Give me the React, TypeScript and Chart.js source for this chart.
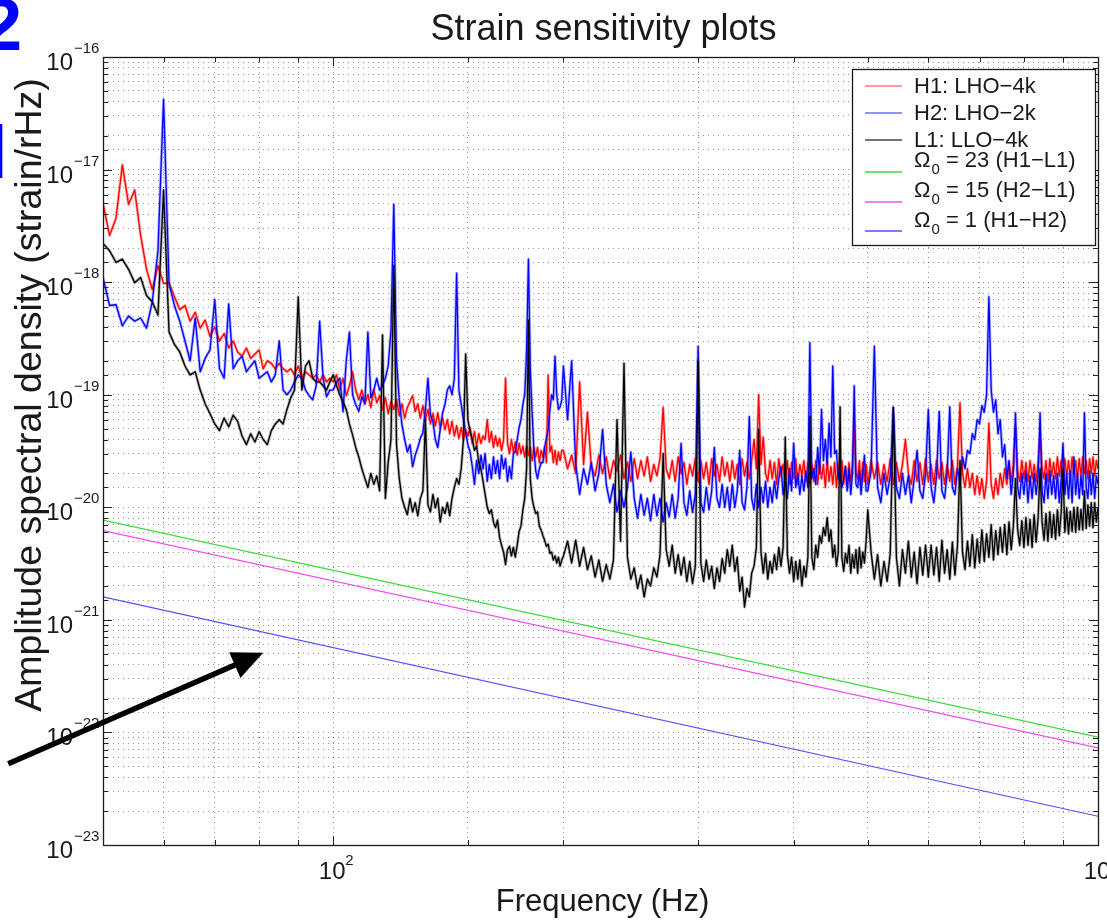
import React, { useEffect, useRef } from "react";
import { Chart, registerables } from "chart.js";

Chart.register(...registerables);

const WIDTH = 1107;
const HEIGHT = 920;
const FONT = '"Liberation Sans", Arial, Helvetica, sans-serif';

const TITLE = "Strain sensitivity plots";
const X_TITLE = "Frequency (Hz)";
const Y_TITLE = "Amplitude spectral density (strain/rHz)";

// Frequency bins (Hz) shared by the three detector spectra
const freqHz = [
  50, 51, 52, 53, 54, 55, 56, 57, 58, 59,
  60, 61, 62, 63, 64, 65, 66, 67, 68, 69,
  70, 71, 72, 73, 74, 75, 76, 77, 78, 79,
  80, 81, 82, 83, 84, 85, 86, 87, 88, 89,
  90, 91, 92, 93, 94, 95, 96, 97, 98, 99,
  100, 101, 102, 103, 104, 105, 106, 107, 108, 109,
  110, 111, 112, 113, 114, 115, 116, 117, 118, 119,
  120, 121, 122, 123, 124, 125, 126, 127, 128, 129,
  130, 131, 132, 133, 134, 135, 136, 137, 138, 139,
  140, 141, 142, 143, 144, 145, 146, 147, 148, 149,
  150, 151, 152, 153, 154, 155, 156, 157, 158, 159,
  160, 161, 162, 163, 164, 165, 166, 167, 168, 169,
  170, 171, 172, 173, 174, 175, 176, 177, 178, 179,
  180, 181, 182, 183, 184, 185, 186, 187, 188, 189,
  190, 191, 192, 193, 194, 195, 196, 197, 198, 199,
  200, 202.5, 205, 207.5, 210, 212.5, 215, 217.5, 220, 222.5,
  225, 227.5, 230, 232.5, 235, 237.5, 240, 242.5, 245, 247.5,
  250, 252.5, 255, 257.5, 260, 262.5, 265, 267.5, 270, 272.5,
  275, 277.5, 280, 282.5, 285, 287.5, 290, 292.5, 295, 297.5,
  300, 302.5, 305, 307.5, 310, 312.5, 315, 317.5, 320, 322.5,
  325, 327.5, 330, 332.5, 335, 337.5, 340, 342.5, 345, 347.5,
  350, 352.5, 355, 357.5, 360, 362.5, 365, 367.5, 370, 372.5,
  375, 377.5, 380, 382.5, 385, 387.5, 390, 392.5, 395, 397.5,
  400, 402.5, 405, 407.5, 410, 412.5, 415, 417.5, 420, 422.5,
  425, 427.5, 430, 432.5, 435, 437.5, 440, 442.5, 445, 447.5,
  450, 452.5, 455, 457.5, 460, 462.5, 465, 467.5, 470, 472.5,
  475, 477.5, 480, 482.5, 485, 487.5, 490, 492.5, 495, 497.5,
  500, 505, 510, 515, 520, 525, 530, 535, 540, 545,
  550, 555, 560, 565, 570, 575, 580, 585, 590, 595,
  600, 605, 610, 615, 620, 625, 630, 635, 640, 645,
  650, 655, 660, 665, 670, 675, 680, 685, 690, 695,
  700, 705, 710, 715, 720, 725, 730, 735, 740, 745,
  750, 755, 760, 765, 770, 775, 780, 785, 790, 795,
  800, 805, 810, 815, 820, 825, 830, 835, 840, 845,
  850, 855, 860, 865, 870, 875, 880, 885, 890, 895,
  900, 905, 910, 915, 920, 925, 930, 935, 940, 945,
  950, 955, 960, 965, 970, 975, 980, 985, 990, 995,
  1000,
];

// H1: LHO 4 km, amplitude spectral density (strain/rHz)
const h1Asd = [
  5.0e-18, 2.6e-18, 3.7e-18, 1.1e-17, 4.9e-18, 6.6e-18, 2.6e-18, 1.3e-18, 8.6e-19, 1.4e-18,
  9.7e-19, 9.9e-19, 7.4e-19, 5.7e-19, 6.2e-19, 4.5e-19, 5.4e-19, 3.9e-19, 4.6e-19, 3.3e-19,
  4.0e-19, 3.0e-19, 3.5e-19, 2.6e-19, 3.0e-19, 2.4e-19, 2.2e-19, 2.6e-19, 2.1e-19, 2.3e-19,
  2.5e-19, 1.7e-19, 2.0e-19, 1.9e-19, 1.7e-19, 1.9e-19, 1.7e-19, 1.6e-19, 1.7e-19, 1.5e-19,
  1.8e-19, 1.4e-19, 1.6e-19, 1.5e-19, 1.4e-19, 1.5e-19, 1.3e-19, 1.5e-19, 1.3e-19, 1.4e-19,
  1.3e-19, 1.5e-19, 1.1e-19, 1.4e-19, 9.8e-20, 1.2e-19, 1.6e-19, 1.1e-19, 9.0e-20, 1.1e-19,
  8.3e-20, 1.0e-19, 7.7e-20, 1.1e-19, 8.5e-20, 9.8e-20, 7.4e-20, 9.4e-20, 6.8e-20, 8.7e-20,
  7.4e-20, 9.0e-20, 6.5e-20, 8.3e-20, 6.2e-20, 7.7e-20, 8.7e-20, 9.8e-20, 7.1e-20, 8.3e-20,
  6.2e-20, 8.0e-20, 6.0e-20, 7.4e-20, 5.5e-20, 6.8e-20, 5.3e-20, 6.9e-20, 5.1e-20, 6.2e-20,
  4.9e-20, 6.0e-20, 4.5e-20, 5.8e-20, 4.3e-20, 5.3e-20, 4.1e-20, 5.1e-20, 4.0e-20, 4.9e-20,
  4.3e-20, 5.1e-20, 3.7e-20, 4.7e-20, 3.5e-20, 4.5e-20, 3.7e-20, 4.3e-20, 4.0e-20, 6.0e-20,
  3.8e-20, 4.7e-20, 3.4e-20, 4.3e-20, 3.5e-20, 4.1e-20, 3.2e-20, 4.0e-20, 1.4e-19, 3.7e-20,
  3.0e-20, 4.0e-20, 3.1e-20, 3.8e-20, 2.9e-20, 3.7e-20, 3.0e-20, 3.5e-20, 2.8e-20, 3.5e-20,
  2.9e-20, 3.4e-20, 2.6e-20, 3.4e-20, 2.8e-20, 3.4e-20, 2.5e-20, 3.2e-20, 2.8e-20, 3.4e-20,
  2.5e-20, 1.5e-19, 3.1e-20, 3.5e-20, 2.5e-20, 3.2e-20, 2.4e-20, 3.1e-20, 2.6e-20, 3.2e-20,
  3.2e-20, 2.2e-20, 2.9e-20, 2.0e-20, 1.3e-19, 2.4e-20, 7.0e-20, 2.3e-20, 1.9e-20, 2.9e-20,
  2.0e-20, 2.8e-20, 1.8e-20, 2.6e-20, 2.1e-20, 2.9e-20, 1.8e-20, 2.5e-20, 1.7e-20, 2.7e-20,
  1.8e-20, 2.6e-20, 1.9e-20, 2.8e-20, 1.7e-20, 2.4e-20, 1.9e-20, 2.7e-20, 7.7e-20, 2.2e-20,
  1.8e-20, 2.6e-20, 1.7e-20, 2.8e-20, 2.0e-20, 2.5e-20, 1.6e-20, 2.4e-20, 1.9e-20, 2.7e-20,
  1.7e-20, 2.6e-20, 1.8e-20, 2.5e-20, 1.6e-20, 2.7e-20, 1.9e-20, 2.4e-20, 1.7e-20, 2.8e-20,
  1.9e-20, 2.5e-20, 1.7e-20, 2.6e-20, 1.8e-20, 2.4e-20, 1.6e-20, 2.7e-20, 1.9e-20, 2.5e-20,
  1.8e-20, 2.6e-20, 4.0e-20, 2.2e-20, 1.0e-19, 2.4e-20, 4.2e-20, 2.0e-20, 1.7e-20, 2.6e-20,
  1.8e-20, 2.5e-20, 1.6e-20, 2.7e-20, 1.9e-20, 2.4e-20, 1.7e-20, 2.6e-20, 1.6e-20, 2.5e-20,
  1.8e-20, 2.7e-20, 1.6e-20, 2.4e-20, 1.9e-20, 2.6e-20, 1.7e-20, 2.5e-20, 1.6e-20, 2.4e-20,
  1.7e-20, 2.6e-20, 1.6e-20, 2.5e-20, 1.8e-20, 2.4e-20, 1.5e-20, 2.6e-20, 1.7e-20, 2.3e-20,
  1.6e-20, 2.5e-20, 1.5e-20, 2.4e-20, 1.7e-20, 2.6e-20, 1.6e-20, 2.3e-20, 1.5e-20, 2.5e-20,
  1.7e-20, 2.4e-20, 5.6e-20, 2.0e-20, 1.8e-20, 2.6e-20, 1.6e-20, 2.5e-20, 1.7e-20, 2.4e-20,
  1.6e-20, 2.6e-20, 1.8e-20, 2.5e-20, 1.6e-20, 2.4e-20, 1.7e-20, 2.7e-20, 1.6e-20, 2.5e-20,
  1.7e-20, 2.4e-20, 4.0e-20, 2.0e-20, 1.6e-20, 2.6e-20, 1.7e-20, 2.5e-20, 1.6e-20, 2.7e-20,
  1.7e-20, 2.4e-20, 1.6e-20, 2.6e-20, 1.8e-20, 2.5e-20, 1.6e-20, 2.4e-20, 1.7e-20, 2.6e-20,
  1.6e-20, 2.3e-20, 8.5e-20, 2.0e-20, 1.5e-20, 2.2e-20, 1.5e-20, 2.0e-20, 1.3e-20, 1.9e-20,
  1.3e-20, 1.8e-20, 1.2e-20, 1.7e-20, 5.6e-20, 1.6e-20, 1.2e-20, 1.8e-20, 1.3e-20, 2.0e-20,
  1.5e-20, 2.2e-20, 1.6e-20, 2.5e-20, 1.7e-20, 2.4e-20, 5.2e-20, 2.1e-20, 1.7e-20, 2.6e-20,
  1.8e-20, 2.5e-20, 1.7e-20, 2.6e-20, 1.8e-20, 2.4e-20, 1.7e-20, 2.5e-20, 4.4e-20, 2.2e-20,
  1.8e-20, 2.6e-20, 1.7e-20, 2.7e-20, 1.9e-20, 2.5e-20, 1.8e-20, 2.8e-20, 1.9e-20, 2.6e-20,
  1.8e-20, 2.7e-20, 1.9e-20, 2.6e-20, 1.8e-20, 2.8e-20, 2.0e-20, 2.6e-20, 1.8e-20, 2.7e-20,
  1.9e-20, 2.8e-20, 2.0e-20, 2.6e-20, 1.8e-20, 2.7e-20, 2.0e-20, 2.8e-20, 1.9e-20, 2.6e-20,
  2.2e-20,
];

// H2: LHO 2 km
const h2Asd = [
  1.1e-18, 6.2e-19, 6.3e-19, 4.1e-19, 5.0e-19, 4.5e-19, 4.8e-19, 3.9e-19, 6.7e-19, 1.9e-18,
  4.2e-17, 9.7e-19, 6.2e-19, 4.5e-19, 3.0e-19, 2.0e-19, 4.8e-19, 1.6e-19, 2.1e-19, 2.5e-19,
  7.0e-19, 1.7e-19, 1.4e-19, 6.4e-19, 1.7e-19, 2.0e-19, 2.2e-19, 1.6e-19, 1.8e-19, 2.0e-19,
  1.4e-19, 1.5e-19, 1.6e-19, 1.3e-19, 1.5e-19, 3.0e-19, 1.1e-19, 1.0e-19, 1.1e-19, 1.3e-19,
  1.5e-19, 1.4e-19, 1.1e-19, 9.8e-20, 9.0e-20, 1.2e-19, 4.5e-19, 1.4e-19, 9.6e-20, 1.1e-19,
  1.1e-19, 1.3e-19, 1.4e-19, 7.1e-20, 2.0e-19, 3.6e-19, 1.0e-19, 8.2e-20, 7.1e-20, 9.6e-20,
  8.3e-20, 3.6e-19, 9.4e-20, 1.1e-19, 1.4e-19, 1.1e-19, 1.2e-19, 1.4e-19, 1.8e-19, 3.8e-19,
  4.9e-18, 2.0e-19, 9.0e-20, 5.4e-20, 4.0e-20, 3.1e-20, 3.6e-20, 2.3e-20, 2.9e-20, 3.4e-20,
  4.1e-20, 4.6e-20, 7.4e-20, 1.4e-19, 6.6e-20, 5.8e-20, 4.0e-20, 3.4e-20, 4.9e-20, 6.9e-20,
  8.2e-20, 1.1e-19, 1.2e-19, 1.0e-19, 1.4e-19, 1.2e-18, 1.1e-19, 8.2e-20, 6.0e-20, 4.6e-20,
  3.6e-20, 3.1e-20, 2.3e-20, 1.6e-20, 2.6e-20, 2.0e-20, 2.9e-20, 2.2e-20, 3.0e-20, 1.7e-20,
  2.4e-20, 1.8e-20, 2.8e-20, 2.0e-20, 2.6e-20, 1.8e-20, 2.9e-20, 2.2e-20, 2.7e-20, 1.7e-20,
  2.3e-20, 1.8e-20, 3.0e-20, 3.1e-20, 4.0e-20, 5.1e-20, 6.0e-20, 8.2e-20, 1.0e-19, 2.5e-19,
  1.6e-18, 1.7e-19, 6.9e-20, 3.2e-20, 2.1e-20, 1.8e-20, 2.2e-20, 2.5e-20, 2.5e-20, 3.4e-20,
  4.1e-20, 4.9e-20, 7.4e-20, 1.0e-19, 9.0e-20, 2.2e-19, 1.0e-19, 7.4e-20, 7.8e-20, 9.0e-20,
  1.8e-19, 6.0e-20, 2.0e-19, 2.4e-20, 1.3e-20, 2.2e-20, 1.6e-20, 2.5e-20, 1.4e-20, 2.0e-20,
  4.9e-20, 1.6e-20, 1.1e-20, 1.6e-20, 9.1e-21, 1.4e-20, 1.0e-20, 1.5e-20, 3.1e-20, 1.2e-20,
  8.0e-21, 1.3e-20, 8.5e-21, 1.2e-20, 7.6e-21, 1.3e-20, 8.4e-21, 1.2e-20, 7.4e-21, 1.1e-20,
  8.2e-21, 1.3e-20, 8.0e-21, 1.2e-20, 3.7e-20, 1.1e-20, 8.5e-21, 1.4e-20, 9.0e-21, 1.3e-20,
  2.7e-19, 1.1e-20, 9.0e-21, 1.5e-20, 9.5e-21, 1.4e-20, 3.4e-20, 1.2e-20, 1.0e-20, 1.6e-20,
  1.0e-20, 1.5e-20, 9.4e-21, 1.6e-20, 1.0e-20, 1.4e-20, 3.2e-20, 1.1e-20, 9.5e-21, 1.5e-20,
  6.4e-20, 1.2e-20, 9.5e-21, 1.6e-20, 1.0e-20, 1.5e-20, 1.1e-20, 1.7e-20, 1.0e-20, 1.5e-20,
  1.1e-20, 1.7e-20, 1.2e-20, 1.8e-20, 2.3e-20, 1.3e-20, 1.7e-20, 1.2e-20, 2.2e-20, 1.4e-20,
  3.7e-20, 1.5e-20, 2.0e-20, 1.3e-20, 1.9e-20, 1.4e-20, 2.1e-20, 1.5e-20, 2.9e-19, 1.8e-20,
  2.2e-20, 1.6e-20, 3.4e-20, 2.0e-20, 7.4e-20, 2.6e-20, 4.0e-20, 2.4e-20, 5.6e-20, 2.8e-20,
  1.8e-19, 3.0e-20, 3.2e-20, 1.8e-20, 2.2e-20, 1.5e-20, 1.8e-20, 2.3e-20, 1.4e-20, 2.2e-20,
  1.3e-20, 2.0e-20, 1.2e-19, 1.6e-20, 1.5e-20, 2.1e-20, 1.3e-20, 2.0e-20, 2.9e-20, 1.4e-20,
  1.4e-20, 2.1e-20, 2.7e-19, 1.5e-20, 1.1e-20, 2.0e-20, 1.3e-20, 1.9e-20, 7.7e-20, 1.5e-20,
  1.2e-20, 2.0e-20, 1.3e-20, 1.9e-20, 1.1e-20, 1.8e-20, 3.2e-20, 1.4e-20, 1.2e-20, 2.0e-20,
  7.4e-20, 1.5e-20, 1.1e-20, 1.9e-20, 7.1e-20, 1.4e-20, 1.2e-20, 2.0e-20, 7.8e-20, 1.5e-20,
  1.3e-20, 2.2e-20, 1.7e-20, 2.8e-20, 2.2e-20, 3.2e-20, 3.0e-20, 4.5e-20, 4.0e-20, 6.0e-20,
  5.5e-20, 8.0e-20, 7.0e-20, 1.0e-19, 7.4e-19, 1.1e-19, 7.0e-20, 9.0e-20, 4.5e-20, 6.0e-20,
  2.8e-20, 3.6e-20, 1.8e-20, 2.6e-20, 1.3e-20, 2.0e-20, 6.9e-20, 1.5e-20, 1.2e-20, 2.0e-20,
  1.3e-20, 2.1e-20, 1.1e-20, 1.9e-20, 1.2e-20, 2.0e-20, 1.3e-20, 1.9e-20, 6.9e-20, 1.4e-20,
  1.1e-20, 2.0e-20, 1.2e-20, 2.1e-20, 1.3e-20, 1.9e-20, 1.2e-20, 2.0e-20, 1.1e-20, 1.8e-20,
  3.7e-20, 1.3e-20, 2.0e-20, 1.2e-20, 2.1e-20, 1.1e-20, 2.8e-20, 1.3e-20, 2.0e-20, 1.2e-20,
  1.9e-20, 1.3e-20, 6.9e-20, 1.5e-20, 1.2e-20, 2.1e-20, 1.3e-20, 2.0e-20, 1.2e-20, 1.9e-20,
  1.6e-20,
];

// L1: LLO 4 km
const l1Asd = [
  2.2e-18, 1.9e-18, 1.5e-18, 1.6e-18, 1.3e-18, 9.9e-19, 1.1e-18, 7.6e-19, 6.7e-19, 5.1e-19,
  6.6e-18, 3.6e-19, 2.8e-19, 2.4e-19, 1.8e-19, 1.5e-19, 1.6e-19, 1.1e-19, 8.3e-20, 6.8e-20,
  5.5e-20, 4.8e-20, 6.2e-20, 5.2e-20, 6.6e-20, 5.8e-20, 4.3e-20, 3.6e-20, 4.5e-20, 3.8e-20,
  4.7e-20, 4.0e-20, 3.6e-20, 4.8e-20, 5.5e-20, 6.0e-20, 5.5e-20, 7.4e-20, 9.4e-20, 1.1e-19,
  7.4e-19, 1.1e-19, 1.8e-19, 2.0e-19, 1.4e-19, 1.3e-19, 1.3e-19, 1.2e-19, 1.1e-19, 1.3e-19,
  1.5e-19, 1.2e-19, 1.0e-19, 8.7e-20, 7.4e-20, 5.5e-20, 4.4e-20, 3.4e-20, 2.8e-20, 2.2e-20,
  1.8e-20, 1.5e-20, 2.0e-20, 1.6e-20, 1.9e-20, 1.4e-20, 3.4e-19, 1.2e-20, 2.5e-20, 4.0e-20,
  1.4e-18, 3.6e-20, 1.8e-20, 1.2e-20, 1.0e-20, 8.6e-21, 1.2e-20, 9.1e-21, 1.1e-20, 8.4e-21,
  1.2e-20, 1.4e-20, 6.0e-20, 1.05e-20, 9.1e-21, 1.3e-20, 9.9e-21, 1.2e-20, 7.4e-21, 1.0e-20,
  8.8e-21, 1.1e-20, 8.4e-21, 1.2e-20, 1.5e-20, 1.8e-20, 1.6e-20, 2.2e-20, 4.0e-20, 2.3e-19,
  6.0e-20, 4.7e-20, 4.0e-20, 3.2e-20, 3.5e-20, 2.5e-20, 2.2e-20, 1.7e-20, 1.3e-20, 1.0e-20,
  8.8e-21, 9.5e-21, 7.4e-21, 6.6e-21, 7.7e-21, 5.4e-21, 4.6e-21, 4.0e-21, 3.1e-21, 4.2e-21,
  4.5e-21, 3.7e-21, 4.4e-21, 3.6e-21, 4.6e-21, 6.1e-21, 6.8e-21, 9.5e-21, 1.2e-20, 2.2e-20,
  4.6e-19, 1.8e-20, 1.2e-20, 1.0e-20, 8.8e-21, 9.1e-21, 6.8e-21, 6.3e-21, 5.6e-21, 5.1e-21,
  4.5e-21, 4.7e-21, 3.9e-21, 4.0e-21, 3.4e-21, 3.7e-21, 3.2e-21, 3.6e-21, 3.0e-21, 3.4e-21,
  3.7e-21, 5.0e-21, 3.2e-21, 5.1e-21, 3.0e-21, 4.4e-21, 2.8e-21, 3.7e-21, 2.4e-21, 3.4e-21,
  2.2e-21, 3.1e-21, 2.3e-21, 3.4e-21, 6.0e-20, 5.0e-21, 1.9e-19, 3.6e-21, 2.3e-21, 2.9e-21,
  1.9e-21, 2.5e-21, 1.6e-21, 2.3e-21, 2.0e-21, 2.9e-21, 2.4e-21, 3.8e-21, 3.0e-20, 4.2e-21,
  3.0e-21, 4.6e-21, 2.6e-21, 3.8e-21, 2.5e-21, 3.6e-21, 2.2e-21, 3.3e-21, 2.1e-21, 3.0e-21,
  2.0e-19, 3.2e-21, 2.2e-21, 3.4e-21, 2.3e-21, 3.0e-21, 1.9e-21, 2.9e-21, 2.2e-21, 3.5e-21,
  2.6e-21, 4.2e-21, 3.0e-21, 4.6e-21, 2.7e-21, 3.6e-21, 1.8e-21, 2.4e-21, 1.3e-21, 1.9e-21,
  1.6e-21, 2.6e-21, 3.0e-21, 4.4e-21, 4.9e-20, 4.0e-21, 2.6e-21, 3.9e-21, 2.3e-21, 3.3e-21,
  2.6e-21, 3.8e-21, 2.8e-21, 4.4e-21, 3.0e-21, 4.4e-21, 4.2e-20, 3.8e-21, 2.6e-21, 3.6e-21,
  2.2e-21, 3.3e-21, 2.3e-21, 3.4e-21, 2.0e-21, 3.0e-21, 2.4e-21, 3.6e-21, 6.4e-20, 3.6e-21,
  2.8e-21, 4.6e-21, 3.6e-21, 5.6e-21, 4.8e-21, 6.6e-21, 5.6e-21, 8.1e-21, 5.0e-21, 6.3e-21,
  3.6e-21, 4.6e-21, 3.0e-21, 4.0e-21, 7.8e-20, 3.6e-21, 2.7e-21, 3.9e-21, 3.2e-21, 4.6e-21,
  2.6e-21, 3.8e-21, 2.9e-21, 4.2e-21, 2.6e-21, 4.4e-21, 2.9e-21, 4.0e-21, 3.2e-21, 5.0e-21,
  9.5e-21, 4.0e-21, 2.3e-21, 3.8e-21, 2.0e-21, 3.3e-21, 2.2e-21, 3.9e-21, 7.7e-20, 3.6e-21,
  2.0e-21, 4.2e-21, 2.6e-21, 5.0e-21, 2.4e-21, 4.0e-21, 2.1e-21, 4.4e-21, 2.5e-21, 4.6e-21,
  2.4e-21, 4.6e-21, 2.5e-21, 4.4e-21, 2.2e-21, 5.1e-21, 2.6e-21, 4.2e-21, 2.3e-21, 4.9e-21,
  2.5e-21, 4.6e-21, 2.6e-20, 4.0e-21, 2.8e-21, 5.0e-21, 3.0e-21, 5.7e-21, 2.9e-21, 5.2e-21,
  3.2e-21, 6.3e-21, 3.3e-21, 5.8e-21, 3.6e-21, 7.0e-21, 3.4e-21, 6.2e-21, 3.8e-21, 6.6e-21,
  4.0e-21, 7.0e-21, 3.8e-21, 7.4e-21, 4.2e-21, 6.8e-21, 1.8e-20, 6.4e-21, 4.6e-21, 7.6e-21,
  4.4e-21, 8.1e-21, 4.6e-21, 7.8e-21, 4.4e-21, 8.6e-21, 4.9e-21, 8.0e-21, 2.2e-20, 7.4e-21,
  5.1e-21, 8.8e-21, 5.0e-21, 9.1e-21, 5.4e-21, 8.6e-21, 5.2e-21, 9.5e-21, 5.6e-21, 9.0e-21,
  2.2e-20, 6.0e-21, 9.9e-21, 5.8e-21, 9.2e-21, 6.1e-21, 1.0e-20, 6.0e-21, 1.0e-20, 6.3e-21,
  9.6e-21, 6.3e-21, 1.4e-20, 6.5e-21, 1.05e-20, 6.8e-21, 1.1e-20, 6.6e-21, 1.1e-20, 7.4e-21,
  1.0e-20,
];

// Stochastic background sensitivity lines, end points at 50 Hz and 1 kHz
const omegaFreq = [50, 1000];
const omega23Asd = [7.7e-21, 9.1e-23];
const omega15Asd = [6.2e-21, 7.3e-23];
const omega1Asd = [1.6e-21, 1.8e-23];

const X_MIN = 50;
const X_MAX = 1000;
const Y_MIN = 1e-23;
const Y_MAX = 1e-16;
const Y_DECADES = [-23, -22, -21, -20, -19, -18, -17, -16];
const X_DECADES = [2, 3];

const RED = "#ff0000";
const BLUE = "#0000ff";
const BLACK = "#000000";
const GREEN_LINE = "rgb(60,220,60)";
const MAGENTA_LINE = "rgb(240,80,240)";
const BLUE_LINE = "rgb(80,80,255)";

type LegendRow = { color: string; text: string; sub?: string; tail?: string };
const LEGEND_ROWS: LegendRow[] = [
  { color: "rgb(255,120,120)", text: "H1: LHO\u22124k" },
  { color: "rgb(110,110,255)", text: "H2: LHO\u22122k" },
  { color: "rgb(70,70,70)", text: "L1: LLO\u22124k" },
  { color: GREEN_LINE, text: "\u03A9", sub: "0", tail: " = 23 (H1\u2212L1)" },
  { color: MAGENTA_LINE, text: "\u03A9", sub: "0", tail: " = 15 (H2\u2212L1)" },
  { color: BLUE_LINE, text: "\u03A9", sub: "0", tail: " = 1 (H1\u2212H2)" },
];
const LEGEND_TEXT_BASE = [93, 120, 147, 167, 197, 227];
const LEGEND_SAMPLE_Y = [86, 113, 140, 172, 202, 231];

// annotation arrow: head position in data units, tail offset in pixels
const ARROW_TIP = { freq: 81, asd: 5.1e-22 };
const ARROW_TAIL_OFFSET = { dx: -255, dy: 111 };

const pairs = (xs: number[], ys: number[]) => {
  const n = Math.min(xs.length, ys.length);
  const out: { x: number; y: number }[] = [];
  for (let i = 0; i < n; i++) out.push({ x: xs[i], y: ys[i] });
  return out;
};

const isDecade = (v: number) => Math.abs(Math.log10(v) - Math.round(Math.log10(v))) < 1e-6;

const decorations = {
  id: "decorations",
  afterDraw(chart: any) {
    const { ctx, chartArea: a, scales } = chart;
    const xs = scales.x;
    const ys = scales.y;
    ctx.save();

    // axes box
    ctx.strokeStyle = "#1a1a1a";
    ctx.lineWidth = 1.3;
    ctx.strokeRect(Math.round(a.left) + 0.5, Math.round(a.top) + 0.5, Math.round(a.right - a.left), Math.round(a.bottom - a.top));

    // inward tick marks on all four sides
    ctx.lineWidth = 1;
    ctx.strokeStyle = "#222";
    ctx.beginPath();
    for (const t of ys.ticks) {
      const py = Math.round(ys.getPixelForValue(t.value)) + 0.5;
      const len = isDecade(t.value) ? 9 : 5;
      ctx.moveTo(a.left, py); ctx.lineTo(a.left + len, py);
      ctx.moveTo(a.right, py); ctx.lineTo(a.right - len, py);
    }
    for (const t of xs.ticks) {
      const px = Math.round(xs.getPixelForValue(t.value)) + 0.5;
      const len = isDecade(t.value) ? 9 : 5;
      ctx.moveTo(px, a.bottom); ctx.lineTo(px, a.bottom - len);
      ctx.moveTo(px, a.top); ctx.lineTo(px, a.top + len);
    }
    ctx.stroke();

    // tick labels with superscript exponents
    ctx.fillStyle = "#1a1a1a";
    ctx.textBaseline = "alphabetic";
    for (const e of Y_DECADES) {
      const py = ys.getPixelForValue(Math.pow(10, e));
      ctx.font = `24px ${FONT}`;
      ctx.textAlign = "right";
      ctx.fillText("10", 73, py + 13);
      ctx.font = `15px ${FONT}`;
      ctx.textAlign = "left";
      ctx.fillText("\u2212" + String(-e), 74, py - 4);
    }
    for (const e of X_DECADES) {
      const px = xs.getPixelForValue(Math.pow(10, e));
      ctx.font = `24px ${FONT}`;
      ctx.textAlign = "center";
      ctx.fillText("10", px - 1, 879);
      ctx.font = `15px ${FONT}`;
      ctx.textAlign = "left";
      ctx.fillText(String(e), px + 12, 865);
    }

    // title and axis titles
    ctx.font = `36px ${FONT}`;
    ctx.textAlign = "center";
    ctx.fillText(TITLE, (a.left + a.right) / 2 + 3, 40);
    ctx.font = `31px ${FONT}`;
    ctx.fillText(X_TITLE, (a.left + a.right) / 2 + 2, 911);
    ctx.save();
    ctx.translate(41, 395);
    ctx.rotate(-Math.PI / 2);
    ctx.font = `37.5px ${FONT}`;
    ctx.fillText(Y_TITLE, 0, 0);
    ctx.restore();

    // legend
    const lx = 852.5, ly = 69.5, lw = 243, lh = 176;
    ctx.fillStyle = "#fff";
    ctx.fillRect(lx, ly, lw, lh);
    ctx.strokeStyle = "#1a1a1a";
    ctx.lineWidth = 1.3;
    ctx.strokeRect(lx, ly, lw, lh);
    LEGEND_ROWS.forEach((row, i) => {
      ctx.strokeStyle = row.color;
      ctx.lineWidth = 1.6;
      ctx.beginPath();
      ctx.moveTo(865, LEGEND_SAMPLE_Y[i]);
      ctx.lineTo(902, LEGEND_SAMPLE_Y[i]);
      ctx.stroke();
      ctx.fillStyle = "#1a1a1a";
      ctx.textAlign = "left";
      ctx.font = `22px ${FONT}`;
      const base = LEGEND_TEXT_BASE[i];
      let x = 914;
      ctx.fillText(row.text, x, base);
      x += ctx.measureText(row.text).width;
      if (row.sub) {
        ctx.font = `15px ${FONT}`;
        ctx.fillText(row.sub, x + 1, base + 7);
        x += ctx.measureText(row.sub).width + 1;
      }
      if (row.tail) {
        ctx.font = `22px ${FONT}`;
        ctx.fillText(row.tail, x, base);
      }
    });

    // annotation arrow
    const tipX = xs.getPixelForValue(ARROW_TIP.freq);
    const tipY = ys.getPixelForValue(ARROW_TIP.asd);
    const tailX = tipX + ARROW_TAIL_OFFSET.dx;
    const tailY = tipY + ARROW_TAIL_OFFSET.dy;
    const dx = tipX - tailX, dy = tipY - tailY;
    const len = Math.hypot(dx, dy);
    const ux = dx / len, uy = dy / len;
    const headLen = 31, headHalf = 14;
    const bx = tipX - ux * headLen, by = tipY - uy * headLen;
    ctx.strokeStyle = "#000";
    ctx.fillStyle = "#000";
    ctx.lineWidth = 5.5;
    ctx.lineCap = "butt";
    ctx.beginPath();
    ctx.moveTo(tailX, tailY);
    ctx.lineTo(bx + ux * 2, by + uy * 2);
    ctx.stroke();
    ctx.beginPath();
    ctx.moveTo(tipX, tipY);
    ctx.lineTo(bx - uy * headHalf, by + ux * headHalf);
    ctx.lineTo(bx + uy * headHalf, by - ux * headHalf);
    ctx.closePath();
    ctx.fill();

    // clipped slide text at the left edge
    ctx.fillStyle = "#0000ff";
    ctx.font = `bold 74px ${FONT}`;
    ctx.textAlign = "left";
    const m2 = ctx.measureText("2");
    ctx.fillText("2", 20 - m2.actualBoundingBoxRight, 50);
    const ml = ctx.measureText("l");
    ctx.fillText("l", 3 - ml.actualBoundingBoxRight, 178);

    ctx.restore();
  },
};

export default function App() {
  const canvasRef = useRef<HTMLCanvasElement | null>(null);

  useEffect(() => {
    const canvas = canvasRef.current;
    if (!canvas) return;
    // each detector trace: a soft wider stroke under a crisp thin one
    const spectrum = (label: string, ys: number[], color: string, halo: string, order: number) => [
      {
        label,
        data: pairs(freqHz, ys),
        borderColor: color,
        borderWidth: 1.3,
        pointRadius: 0,
        fill: false,
        order,
      },
      {
        label: label + " (halo)",
        data: pairs(freqHz, ys),
        borderColor: halo,
        borderWidth: 3,
        pointRadius: 0,
        fill: false,
        order: order + 3,
      },
    ];
    const powerLaw = (label: string, ys: number[], color: string) => ({
      label,
      data: pairs(omegaFreq, ys),
      borderColor: color,
      borderWidth: 1.2,
      pointRadius: 0,
      fill: false,
      order: 7,
    });
    const grid = { color: "rgba(0,0,0,0.42)", lineWidth: 1, drawTicks: false };
    const chart = new Chart(canvas, {
      type: "line",
      data: {
        datasets: [
          ...spectrum("H1: LHO-4k", h1Asd, RED, "rgba(255,0,0,0.3)", 2),
          ...spectrum("H2: LHO-2k", h2Asd, BLUE, "rgba(0,0,255,0.3)", 1),
          ...spectrum("L1: LLO-4k", l1Asd, BLACK, "rgba(0,0,0,0.3)", 0),
          powerLaw("Omega0 = 23 (H1-L1)", omega23Asd, GREEN_LINE),
          powerLaw("Omega0 = 15 (H2-L1)", omega15Asd, MAGENTA_LINE),
          powerLaw("Omega0 = 1 (H1-H2)", omega1Asd, BLUE_LINE),
        ] as any,
      },
      options: {
        responsive: false,
        maintainAspectRatio: false,
        animation: false,
        events: [],
        parsing: false,
        normalized: true,
        layout: { padding: { left: 103, top: 57, right: 9, bottom: 75 } },
        elements: {
          point: { radius: 0 },
          line: { tension: 0, borderJoinStyle: "round" },
        },
        plugins: {
          legend: { display: false },
          tooltip: { enabled: false },
          title: { display: false },
        },
        scales: {
          x: {
            type: "logarithmic",
            min: X_MIN,
            max: X_MAX,
            ticks: { display: false },
            grid,
            border: { display: false, dash: [1, 4] },
          },
          y: {
            type: "logarithmic",
            min: Y_MIN,
            max: Y_MAX,
            ticks: { display: false },
            grid,
            border: { display: false, dash: [1, 4] },
          },
        },
      } as any,
      plugins: [decorations],
    });
    return () => chart.destroy();
  }, []);

  return (
    <div
      style={{
        position: "fixed",
        left: 0,
        top: 0,
        width: WIDTH,
        height: HEIGHT,
        background: "#ffffff",
        overflow: "hidden",
      }}
    >
      <canvas
        ref={canvasRef}
        width={WIDTH}
        height={HEIGHT}
        style={{ display: "block", width: WIDTH, height: HEIGHT }}
      />
    </div>
  );
}
